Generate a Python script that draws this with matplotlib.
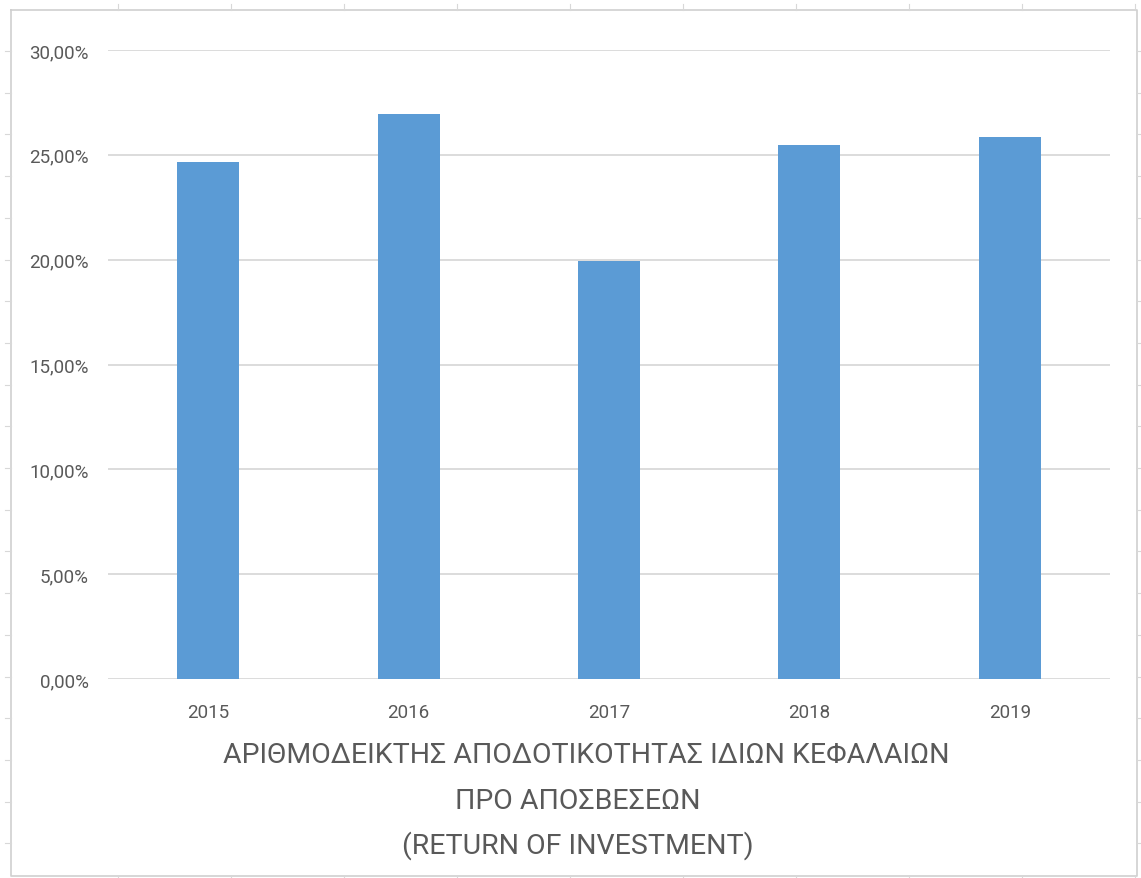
import numpy as np
import matplotlib.pyplot as plt

years = ["2015", "2016", "2017", "2018", "2019"]
roi = [24.65, 26.95, 19.95, 25.45, 25.85]
y_ticks = [0, 5, 10, 15, 20, 25, 30]
title_lines = ["ΑΡΙΘΜΟΔΕΙΚΤΗΣ ΑΠΟΔΟΤΙΚΟΤΗΤΑΣ ΙΔΙΩΝ ΚΕΦΑΛΑΙΩΝ",
               "ΠΡΟ ΑΠΟΣΒΕΣΕΩΝ",
               "(RETURN OF INVESTMENT)"]

plt.rcParams["font.family"] = ["Roboto", "DejaVu Sans"]

W, H = 1141, 879
fig = plt.figure(figsize=(W / 100, H / 100), dpi=100)

# light frame with small ruler ticks around the chart
frame = fig.add_axes([0, 0, 1, 1])
frame.set_xlim(0, W)
frame.set_ylim(H, 0)
frame.axis("off")
frame.plot([11, 1137, 1137, 11, 11], [11, 11, 877, 877, 11], color="#d0d0d0", lw=1.2)
for yy in np.arange(52, 877, 41.7):
    frame.plot([5, 11], [yy, yy], color="#d8d8d8", lw=0.8)
    frame.plot([1137, 1141], [yy, yy], color="#d8d8d8", lw=0.8)
for xx in np.arange(118, 1137, 113):
    frame.plot([xx, xx], [5, 11], color="#d8d8d8", lw=0.8)
    frame.plot([xx, xx], [877, 879], color="#d8d8d8", lw=0.8)

ax = fig.add_axes([108 / W, 1 - 680 / H, 1002 / W, 629 / H])
x = np.arange(len(years))
ax.bar(x, roi, width=0.31, color="#5B9BD5", zorder=3)
ax.set_xlim(-0.5, len(years) - 0.5)
ax.set_ylim(0, 30)
ax.set_yticks(y_ticks)
ax.set_yticklabels(["{:.2f}%".format(v).replace(".", ",") for v in y_ticks])
ax.set_xticks(x)
ax.set_xticklabels(years)
ax.grid(axis="y", color="#d9d9d9", lw=1.3, zorder=0)
for s in ax.spines.values():
    s.set_visible(False)
ax.tick_params(axis="both", length=0, labelsize=13.5, colors="#595959")
ax.tick_params(axis="y", pad=14)
ax.tick_params(axis="x", pad=17)

# three-line caption under the axis
title_x = [586, 578, 578]
title_base = [763, 809, 854]
for line, tx, ty in zip(title_lines, title_x, title_base):
    fig.text(tx / W, 1 - ty / H, line, ha="center", va="baseline",
             fontsize=20.5, color="#595959")

fig.savefig("out.png", dpi=100)
